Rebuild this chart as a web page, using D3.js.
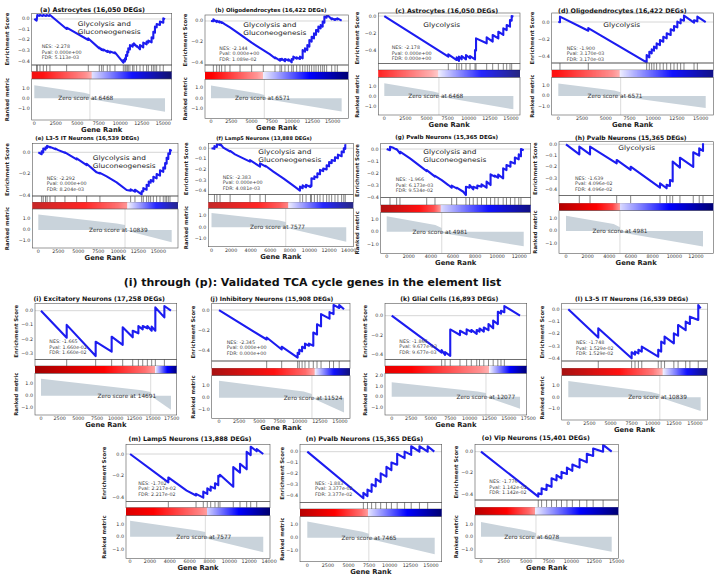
<!DOCTYPE html>
<html><head><meta charset="utf-8">
<script src="https://cdn.jsdelivr.net/npm/d3@7"></script>
<style>body{margin:0;background:#fff}svg{display:block}text{font-family:"DejaVu Sans",sans-serif}</style>
</head><body><svg id="c" width="720" height="576"></svg>
<script>
// ---------------- DATA ----------------
const titles = ["(a) Astrocytes (16,050 DEGs)","(b) Oligodendrocytes (16,422 DEGs)","(c) Astrocytes (16,050 DEGs)","(d) Oligodendrocytes (16,422 DEGs)",
 "(e) L3-5 IT Neurons (16,539 DEGs)","(f) Lamp5 Neurons (13,888 DEGs)","(g) Pvalb Neurons (15,365 DEGs)","(h) Pvalb Neurons (15,365 DEGs)",
 "(i) Excitatory Neurons (17,258 DEGs)","(j) Inhibitory Neurons (15,908 DEGs)","(k) Glial Cells (16,893 DEGs)","(l) L3-5 IT Neurons (16,539 DEGs)",
 "(m) Lamp5 Neurons (13,888 DEGs)","(n) Pvalb Neurons (15,365 DEGs)","(o) Vip Neurons (15,401 DEGs)"];
const sectionTitle = "(i) through (p): Validated TCA cycle genes in the element list";
const geneSetLabels = [["Glycolysis and","Gluconeogenesis"],["Glycolysis and","Gluconeogenesis"],["Glycolysis"],["Glycolysis"],
 ["Glycolysis and","Gluconeogenesis"],["Glycolysis and","Gluconeogenesis"],["Glycolysis and","Gluconeogenesis"],["Glycolysis"],[],[],[],[],[],[],[]];
const nesValues = ["-2.278","-2.144","-2.178","-1.900","-2.292","-2.383","-1.966","-1.639","-1.665","-2.345","-1.866","-1.748","-1.702","-1.883","-1.776"];
const pValues = ["0.000e+00","0.000e+00","0.000e+00","3.170e-03","0.000e+00","0.000e+00","6.173e-03","4.096e-02","1.660e-02","0.000e+00","9.677e-03","1.529e-02","2.217e-02","3.377e-02","1.142e-02"];
const fdrValues = ["5.113e-03","1.089e-02","0.000e+00","3.170e-03","8.204e-03","4.081e-03","9.534e-02","4.096e-02","1.660e-02","0.000e+00","9.677e-03","1.529e-02","2.217e-02","3.377e-02","1.142e-02"];
const zeroScores = [6468,6571,6468,6571,10839,7577,4981,4981,14691,11524,12077,10839,7577,7465,6078];
const rankedCounts = [15200,16110,15280,15530,16670,13750,12400,12650,17400,15500,16440,15670,13410,15450,14450];
const xDomains = [[-302,15977],[-740,16930],[-710,16065],[-695,16330],[-750,17460],[-327,14470],[-543,13032],[-646,13600],
 [-803,18170],[-905,16240],[-858,17295],[-781,16460],[-413,14089],[-885,16300],[-663,15180]];
const esDomains = [[-0.438,0.054],[-0.426,0.058],[-0.546,0.035],[-0.482,0.106],[-0.403,0.083],[-0.434,0.047],[-0.4,0.047],[-0.457,0.023],
 [-0.342,0.052],[-0.50,0.066],[-0.444,0.126],[-0.422,0.049],[-0.437,0.089],[-0.467,0.068],[-0.454,0.069]];
const rankDomains = [[-2.17,1.93],[-1.88,1.78],[-1.9,1.87],[-1.76,1.73],[-1.64,1.91],[-1.69,1.65],[-1.75,1.57],[-1.78,1.62],
 [-1.58,1.84],[-1.7,1.81],[-1.76,2.25],[-1.95,1.85],[-1.75,1.7],[-1.87,1.63],[-1.73,1.74]];
const esTicks = [[0,-0.1,-0.2,-0.3,-0.4],[0,-0.2,-0.4],[0,-0.2,-0.4],[0,-0.2,-0.4],[0,-0.2,-0.4],[0,-0.1,-0.2,-0.3,-0.4],[0,-0.1,-0.2,-0.3,-0.4],[0,-0.1,-0.2,-0.3,-0.4],
 [0,-0.1,-0.2,-0.3],[0,-0.2,-0.4],[0,-0.2,-0.4],[0,-0.1,-0.2,-0.3,-0.4],[0,-0.2,-0.4],[0,-0.1,-0.2,-0.3,-0.4],[0,-0.2,-0.4]];
const rankTicks = [[-1,0,1],[-1,0,1],[-1,0,1],[-1,0,1],[-1,0,1],[-1,0,1],[-1,0,1],[-1,0,1],[-1,0,1],[-1,0,1],[-1,0,1,2],[-1,0,1],[-1,0,1],[-1,0,1],[-1,0,1]];
const t2500_15000 = [0,2500,5000,7500,10000,12500,15000];
const t2500_17500 = [0,2500,5000,7500,10000,12500,15000,17500];
const t2000_14000 = [0,2000,4000,6000,8000,10000,12000,14000];
const t2000_12000 = [0,2000,4000,6000,8000,10000,12000];
const xTicks = [t2500_15000,t2500_15000,t2500_15000,t2500_15000,t2500_15000,t2000_14000,t2000_12000,t2000_12000,
 t2500_17500,t2500_15000,t2500_17500,t2500_15000,t2000_14000,t2500_15000,t2500_15000];
// ranked metric profile (rank, metric)
const metricProfiles = [
 [[0,1.3],[5800,0.55],[6468,0.4],[6468,-0.08],[15200,-1.35]],
 [[0,1.2],[5900,0.45],[6571,0.3],[6571,-0.05],[16110,-1.25]],
 [[0,1.27],[5800,0.45],[6468,0.3],[6468,-0.05],[15280,-1.33]],
 [[0,1.15],[5900,0.5],[6571,0.35],[6571,-0.05],[15530,-1.12]],
 [[0,1.42],[9800,0.6],[10839,0.45],[10839,-0.02],[16670,-1.12]],
 [[0,1.24],[6800,0.6],[7577,0.45],[7577,-0.05],[13750,-1.26]],
 [[0,1.26],[4400,0.55],[4981,0.3],[4981,-0.1],[12400,-1.18]],
 [[0,1.21],[4400,0.55],[4981,0.3],[4981,-0.1],[12650,-1.24]],
 [[0,1.39],[13500,0.45],[14691,0.3],[14691,0],[17400,-1.14]],
 [[0,1.39],[10500,0.5],[11524,0.3],[11524,-0.02],[15500,-1.22]],
 [[0,1.4],[11000,0.5],[12077,0.35],[12077,-0.02],[16440,-1.15]],
 [[0,1.4],[9800,0.45],[10839,0.25],[10839,-0.02],[15670,-1.17]],
 [[0,1.3],[6800,0.5],[7577,0.38],[7577,-0.13],[13410,-1.27]],
 [[0,1.26],[6700,0.45],[7465,0.3],[7465,-0.08],[15450,-1.3]],
 [[0,1.18],[5400,0.45],[6078,0.3],[6078,-0.05],[14450,-1.2]]];
const colorLimits = [[-1.45,2.3],[-1.4,2.2],[-1.45,2.5],[-1.3,2.2],[-1.3,1.85],[-1.4,1.6],[-1.35,1.5],[-1.4,1.5],
 [-1.3,1.6],[-1.35,1.6],[-1.3,2.3],[-1.3,1.6],[-1.4,2.0],[-1.45,1.6],[-1.35,1.5]];
// running enrichment score curves (rank, ES)
const esA = [[0,0],[270,-0.016],[350,0.038],[580,0.029],[660,0.038],[970,0.029],[1050,0.038],[1360,0.029],[1430,0.038],[1740,0.029],[1820,0.038],[3760,-0.095],[3760,-0.083],[6280,-0.2],[6280,-0.185],[7560,-0.28],[7560,-0.272],[7830,-0.295],[7830,-0.285],[8020,-0.3],[8020,-0.29],[8490,-0.314],[8490,-0.302],[8800,-0.32],[8800,-0.31],[9380,-0.327],[9380,-0.318],[10350,-0.416],[10350,-0.392],[10540,-0.403],[10540,-0.375],[10660,-0.385],[10660,-0.343],[10810,-0.352],[10810,-0.31],[10930,-0.318],[10930,-0.279],[11120,-0.29],[11120,-0.248],[11430,-0.264],[11430,-0.241],[11590,-0.25],[11590,-0.232],[11900,-0.263],[11900,-0.255],[12290,-0.289],[12290,-0.248],[12670,-0.27],[12670,-0.225],[13060,-0.241],[13060,-0.216],[13260,-0.225],[13260,-0.206],[13640,-0.222],[13640,-0.175],[13840,-0.184],[13840,-0.121],[14030,-0.13],[14030,-0.073],[14230,-0.08],[14230,-0.048],[14610,-0.057],[14610,-0.025],[15000,-0.035],[15000,0.006],[15200,-0.003]];
const esB = [[0,0],[290,-0.003],[290,0.016],[700,-0.01],[700,0.003],[1030,-0.013],[1030,-0.003],[1310,-0.018],[1310,-0.01],[1730,-0.032],[2340,-0.061],[3580,-0.129],[5010,-0.21],[6450,-0.281],[7280,-0.323],[7890,-0.361],[7890,-0.352],[8510,-0.384],[8510,-0.368],[8710,-0.377],[8710,-0.365],[9120,-0.39],[9120,-0.368],[9540,-0.384],[9540,-0.371],[9950,-0.4],[9950,-0.368],[10150,-0.374],[10150,-0.345],[10560,-0.365],[10560,-0.352],[10970,-0.368],[10970,-0.345],[11300,-0.361],[11300,-0.281],[11590,-0.297],[11590,-0.265],[11880,-0.281],[11880,-0.232],[12130,-0.248],[12130,-0.184],[12410,-0.2],[12410,-0.152],[12700,-0.168],[12700,-0.119],[12950,-0.135],[12950,-0.087],[13240,-0.103],[13240,-0.055],[13520,-0.071],[13520,-0.039],[13770,-0.055],[13770,-0.006],[13980,-0.016],[13980,0.042],[14260,0.032],[14260,0.065],[14880,0.016],[14880,0.026],[15290,0.01],[15290,0.019],[15580,0.016],[15580,0.026],[16110,0.003]];
const esC = [[0,0],[7580,-0.469],[7580,-0.442],[8570,-0.508],[8570,-0.477],[8840,-0.519],[8840,-0.469],[9160,-0.5],[9160,-0.462],[9670,-0.5],[9670,-0.45],[10150,-0.488],[10150,-0.462],[10740,-0.5],[10740,-0.392],[10860,-0.398],[10860,-0.258],[12120,-0.315],[12120,-0.246],[12830,-0.296],[12830,-0.219],[13500,-0.258],[13500,-0.181],[14090,-0.219],[14090,-0.142],[14490,-0.162],[14490,-0.104],[14880,-0.123],[14880,-0.046],[15080,-0.054],[15080,0],[15280,-0.008]];
const esD = [[0,0],[176,-0.001],[176,0.063],[3160,-0.102],[3160,-0.071],[9310,-0.475],[9310,-0.388],[9590,-0.416],[9590,-0.349],[9840,-0.369],[9840,-0.322],[10080,-0.337],[10080,-0.29],[10360,-0.31],[10360,-0.251],[10710,-0.271],[10710,-0.212],[11060,-0.232],[11060,-0.173],[11420,-0.192],[11420,-0.133],[11840,-0.153],[11840,-0.086],[12190,-0.102],[12190,-0.047],[12540,-0.063],[12540,0.004],[12890,-0.016],[12890,0.031],[13240,0.016],[13240,0.075],[14300,-0.008],[14300,0.02],[14650,0.008],[14650,0.063],[15530,0.0]];
const esE = [[0,0],[420,-0.018],[420,0.01],[620,0.0],[620,0.035],[900,0.025],[900,0.045],[1100,0.04],[1100,0.06],[1460,0.045],[1460,0.05],[2100,0.03],[2100,0.035],[2500,0.02],[3330,-0.005],[3330,0.0],[4790,-0.065],[4790,-0.055],[6040,-0.118],[6040,-0.105],[7290,-0.185],[7700,-0.195],[7700,-0.19],[8540,-0.222],[9790,-0.277],[11040,-0.348],[11540,-0.355],[11540,-0.342],[12080,-0.363],[12080,-0.345],[12920,-0.388],[12920,-0.36],[13125,-0.36],[13125,-0.33],[13540,-0.345],[13540,-0.3],[13800,-0.31],[13800,-0.27],[14040,-0.28],[14040,-0.255],[14380,-0.27],[14380,-0.225],[14790,-0.24],[14790,-0.2],[15210,-0.215],[15210,-0.165],[15620,-0.18],[15620,-0.14],[15850,-0.15],[15850,-0.1],[16040,-0.105],[16040,-0.05],[16250,-0.06],[16250,-0.01],[16460,-0.015],[16460,0.022],[16670,0.012]];
const esF = [[0,0],[300,-0.005],[300,0.02],[550,0.012],[550,0.04],[870,0.03],[870,0.045],[1200,0.006],[1900,-0.03],[1900,-0.025],[2400,-0.057],[3080,-0.088],[3930,-0.126],[3930,-0.112],[4950,-0.173],[4950,-0.142],[5500,-0.17],[5500,-0.165],[6310,-0.22],[7330,-0.283],[8350,-0.352],[9030,-0.4],[9030,-0.362],[9300,-0.377],[9300,-0.35],[9650,-0.368],[9650,-0.345],[10100,-0.365],[10100,-0.35],[10200,-0.355],[10200,-0.283],[10500,-0.29],[10500,-0.265],[10800,-0.275],[10800,-0.235],[11070,-0.245],[11070,-0.204],[11400,-0.215],[11400,-0.19],[11750,-0.2],[11750,-0.16],[12000,-0.17],[12000,-0.13],[12260,-0.14],[12260,-0.11],[12600,-0.12],[12600,-0.085],[12900,-0.095],[12900,-0.06],[13280,-0.075],[13280,-0.03],[13500,-0.038],[13500,0.0],[13650,-0.005],[13650,0.03],[13750,0.025]];
const esG = [[0,0],[300,-0.01],[300,0.019],[600,0.01],[900,-0.005],[900,0.0],[1200,-0.036],[1200,-0.022],[2110,-0.077],[3620,-0.181],[3620,-0.173],[4370,-0.227],[4370,-0.22],[4980,-0.255],[5580,-0.296],[5880,-0.318],[5880,-0.301],[6330,-0.323],[6330,-0.318],[6930,-0.351],[7170,-0.378],[7170,-0.31],[7500,-0.318],[7500,-0.296],[7830,-0.332],[7830,-0.31],[8200,-0.323],[8200,-0.3],[8580,-0.31],[8580,-0.29],[9040,-0.318],[9040,-0.268],[9400,-0.296],[9400,-0.208],[9780,-0.227],[9780,-0.219],[10090,-0.236],[10090,-0.21],[10540,-0.241],[10540,-0.159],[10840,-0.173],[10840,-0.132],[11200,-0.145],[11200,-0.104],[11600,-0.12],[11600,-0.07],[11950,-0.085],[11950,-0.044],[12150,-0.06],[12150,0.0],[12400,-0.01]];
const esH = [[0,0],[1230,-0.089],[1230,-0.021],[2220,-0.089],[2220,-0.021],[4680,-0.169],[4680,-0.139],[5970,-0.228],[5970,-0.199],[8680,-0.385],[8680,-0.347],[9290,-0.391],[9290,-0.36],[9600,-0.37],[9600,-0.317],[9850,-0.33],[9850,-0.154],[10520,-0.207],[10520,-0.119],[11750,-0.2],[11750,-0.071],[12300,-0.1],[12300,-0.036],[12650,-0.059],[12650,0.01]];
const esI = [[0,0],[3440,-0.19],[3440,-0.1],[7320,-0.319],[7320,-0.218],[9460,-0.288],[9460,-0.183],[10940,-0.241],[10940,-0.117],[12280,-0.187],[12280,-0.141],[13040,-0.159],[13040,-0.108],[13620,-0.131],[13620,-0.108],[14240,-0.124],[14240,-0.108],[14820,-0.141],[14820,-0.112],[15310,-0.141],[15310,0.023],[16520,-0.047],[16520,0.033],[17400,0.0]];
const esJ = [[0,0],[5910,-0.289],[5910,-0.27],[7770,-0.387],[7770,-0.36],[9750,-0.466],[9750,-0.42],[9950,-0.43],[9950,-0.39],[10300,-0.405],[10300,-0.36],[10660,-0.375],[10660,-0.33],[11150,-0.35],[11150,-0.33],[11690,-0.35],[11690,-0.22],[12150,-0.24],[12150,-0.14],[12650,-0.16],[12650,-0.04],[13700,-0.085],[13700,-0.02],[14200,-0.04],[14200,0.05],[14900,0.02],[14900,0.05],[15500,0.007]];
const esK = [[0,0],[6400,-0.376],[6400,-0.35],[6830,-0.4],[6830,-0.37],[7500,-0.41],[7500,-0.14],[8750,-0.197],[8750,-0.153],[9600,-0.19],[9600,-0.139],[10200,-0.165],[10200,-0.145],[10890,-0.186],[10890,-0.145],[11250,-0.163],[11250,-0.13],[11800,-0.163],[11800,-0.12],[12400,-0.147],[12400,-0.085],[13000,-0.129],[13000,-0.05],[13600,-0.085],[13600,0.04],[14000,0.02],[14000,0.05],[14430,0.035],[14430,0.098],[16440,0.0]];
const esL = [[0,0],[3550,-0.231],[3550,-0.155],[7500,-0.4],[7500,-0.35],[7900,-0.37],[7900,-0.345],[8300,-0.36],[8300,-0.33],[8700,-0.345],[8700,-0.305],[10650,-0.386],[10650,-0.33],[11000,-0.345],[11000,-0.264],[11400,-0.28],[11400,-0.223],[12500,-0.278],[12500,-0.196],[13000,-0.215],[13000,-0.128],[13900,-0.17],[13900,-0.1],[14400,-0.12],[14400,-0.06],[15390,-0.087],[15390,0.035],[15670,0.008]];
const esM = [[0,0],[3850,-0.26],[3850,-0.215],[5700,-0.336],[6640,-0.38],[6640,-0.365],[7370,-0.4],[7370,-0.345],[7775,-0.366],[7775,-0.314],[8117,-0.336],[8117,-0.299],[8550,-0.316],[8550,-0.268],[8880,-0.286],[8880,-0.2],[9050,-0.205],[9050,-0.19],[10390,-0.3],[10390,-0.12],[11070,-0.17],[11070,-0.09],[11740,-0.14],[11740,0.02],[12145,-0.01],[12145,0.067],[12750,0.025],[12750,0.045],[13410,0.0]];
const esN = [[0,0],[6800,-0.43],[6800,-0.38],[7300,-0.41],[7300,-0.35],[7800,-0.37],[7800,-0.3],[8300,-0.32],[8300,-0.25],[8900,-0.28],[8900,-0.2],[9600,-0.23],[9600,-0.14],[10200,-0.17],[10200,-0.1],[10900,-0.12],[10900,-0.02],[11800,-0.06],[11800,0.0],[12600,-0.03],[12600,0.05],[13600,0.0],[13600,0.05],[14600,0.0],[14600,0.05],[15400,0.0]];
const esO = [[0,0],[6330,-0.423],[6330,-0.39],[6700,-0.4],[6700,-0.344],[7250,-0.36],[7250,-0.31],[7800,-0.33],[7800,-0.25],[8350,-0.27],[8350,-0.22],[8900,-0.25],[8900,-0.19],[9500,-0.21],[9500,-0.15],[10100,-0.18],[10100,-0.12],[10900,-0.15],[10900,-0.07],[11700,-0.1],[11700,-0.02],[12400,-0.04],[12400,0.03],[13500,0.0],[13500,0.063],[14450,0.0]];
const esCurves = [esA,esB,esC,esD,esE,esF,esG,esH,esI,esJ,esK,esL,esM,esN,esO];
// extra hit positions (genes in set without visible jump)
const extraHits = [[270,350,660,1050,1430,1820],[1730,2340,3580,5010,6450],[],[],[620,900,1100,2100,3330],[300,550,870,1900],[300,900,1200],[],[],[],[],[],[],[],[]];

// ---------------- LAYOUT (pixels) ----------------
const layout = [
 {x0:31.7,x1:171.7,y:[13.3,65,71.7,79,120],tx:92.5,tw:105,ty:9.5,gx:77.7,gy:24.3,sx:41.7,sy:46.7,yl:7.3,zx:85.8},
 {x0:205,x1:348.3,y:[15,65,72,79.3,118.3],tx:270.8,tw:111.7,ty:9.5,gx:243.3,gy:25,sx:219.3,sy:48.3,yl:185,zx:262.5},
 {x0:378.3,x1:520,y:[13,63.3,70,77.3,115],tx:446.7,tw:103.3,ty:10,gx:423.3,gy:25,sx:391.7,sy:47.7,yl:357,zx:435.8},
 {x0:551.7,x1:713.3,y:[13,63,70,77.3,115],tx:622.3,tw:128.7,ty:10,gx:603.3,gy:25,sx:566.7,sy:48.3,yl:531.7,zx:615},
 {x0:32.3,x1:178,y:[143.3,196,202.3,209,248],tx:87.2,tw:104.3,ty:137.5,gx:92.7,gy:158.3,sx:46.7,sy:178.3,yl:7.3,zx:118.3},
 {x0:208.3,x1:353.3,y:[143.3,194.3,202.3,208.3,246.7],tx:264,tw:95.7,ty:137.5,gx:258.3,gy:152.3,sx:222.7,sy:177.3,yl:186,zx:277.5},
 {x0:380.7,x1:530.7,y:[143.3,197.7,205,212.3,253.3],tx:446.7,tw:103.3,ty:137,gx:423.3,gy:152.3,sx:395.7,sy:179.7,yl:356.7,zx:440},
 {x0:559,x1:713.3,y:[141.7,195.7,203.3,210.7,253.3],tx:630.8,tw:111.7,ty:137,gx:618.3,gy:148.3,sx:575,sy:178.3,yl:535,zx:620},
 {x0:35,x1:176.7,y:[303.3,359.3,366,373.3,415],tx:99.2,tw:131.7,ty:298.3,sx:49.3,sy:341.7,yl:15.7,zx:126.8},
 {x0:211.7,x1:350,y:[303.3,361,368.3,375.7,418.3],tx:271.7,tw:123.3,ty:298.3,sx:226.7,sy:342.3,yl:193.3,zx:313},
 {x0:385,x1:526.7,y:[303.3,359.3,366,373.3,415],tx:449.2,tw:98.3,ty:298.3,sx:399.3,sy:341,yl:365,zx:485.8},
 {x0:561.7,x1:707.3,y:[303.3,361,368.3,375.7,420],tx:631.7,tw:113.3,ty:298.3,sx:576,sy:342.7,yl:541.7,zx:657.5},
 {x0:126,x1:270,y:[444.3,501.7,507.7,515.7,558.3],tx:190,tw:123.3,ty:438.3,sx:138.3,sy:483.3,yl:104,zx:203.8},
 {x0:300,x1:441.7,y:[444.3,502.3,509,516.7,561.7],tx:364.5,tw:117.7,ty:438.3,sx:315,sy:483.3,yl:281.7,zx:369},
 {x0:475,x1:618.3,y:[444.3,500,507.3,515,558.3],tx:535.8,tw:108.3,ty:437,sx:489.3,sy:481.7,yl:456,zx:531.7}];

// ---------------- DRAW ----------------
const svg = d3.select("#c");
svg.append("rect").attr("width",720).attr("height",576).attr("fill","#fff");
const defs = svg.append("defs");
const seismic = d3.scaleLinear().domain([0,0.25,0.5,0.75,1]).range(["#00004c","#0000ff","#ffffff","#ff0000","#800000"]).clamp(true);
const fmt1 = v => (v < 0 ? "\u2212" : "") + Math.abs(v).toFixed(1);

function metricAt(pts, r) {
  for (let k = 0; k < pts.length - 1; k++) {
    const a = pts[k], b = pts[k+1];
    if (b[0] === a[0]) continue;
    if (r >= a[0] && r <= b[0]) return a[1] + (b[1]-a[1])*(r-a[0])/(b[0]-a[0]);
  }
  return r < pts[0][0] ? pts[0][1] : pts[pts.length-1][1];
}
function fitText(sel, target) {
  const base = 10; sel.attr("font-size", base);
  const len = sel.node().getComputedTextLength();
  sel.attr("font-size", base*target/len);
}

titles.forEach((title, i) => {
  const L = layout[i], [y0,y1,y2,y3,y4] = L.y;
  const g = svg.append("g");
  const x = d3.scaleLinear().domain(xDomains[i]).range([L.x0, L.x1]);
  const yE = d3.scaleLinear().domain(esDomains[i]).range([y1, y0]);
  const yR = d3.scaleLinear().domain(rankDomains[i]).range([y4, y3]);
  const N = rankedCounts[i], z = zeroScores[i], mp = metricProfiles[i];
  const clipId = "clip" + i;
  defs.append("clipPath").attr("id", clipId).append("rect").attr("x", L.x0).attr("y", y0).attr("width", L.x1-L.x0).attr("height", y1-y0);

  // title
  fitText(g.append("text").attr("x", L.tx).attr("y", L.ty).attr("text-anchor","middle").attr("dominant-baseline","central")
    .attr("font-weight","bold").attr("fill","#111").text(title), L.tw);

  // ES panel
  g.append("line").attr("x1",L.x0).attr("x2",L.x1).attr("y1",yE(0)).attr("y2",yE(0)).attr("stroke","#cccccc").attr("stroke-width",0.8);
  g.append("path").datum(esCurves[i]).attr("clip-path","url(#"+clipId+")")
    .attr("d", d3.line().x(d => x(d[0])).y(d => yE(d[1])))
    .attr("fill","none").attr("stroke","#1c1cf0").attr("stroke-width",2.1).attr("stroke-linejoin","round");
  g.append("rect").attr("x",L.x0).attr("y",y0).attr("width",L.x1-L.x0).attr("height",y1-y0).attr("fill","none").attr("stroke","#555").attr("stroke-width",0.6);
  esTicks[i].forEach(t => g.append("text").attr("x",L.x0-2).attr("y",yE(t)).attr("text-anchor","end").attr("dominant-baseline","central")
    .attr("font-size",4.8).attr("fill","#333").text(fmt1(t)));

  // gene set label (width kept as at 7.4px, height reduced so the two lines do not collide)
  geneSetLabels[i].forEach((s, k) => {
    const t = g.append("text").attr("x",L.gx).attr("y",L.gy + k*7.6).attr("dominant-baseline","central")
      .attr("font-size",7.4).attr("fill","#222").text(s);
    const w = t.node().getComputedTextLength();
    t.attr("font-size",6.4).attr("textLength",w).attr("lengthAdjust","spacingAndGlyphs");
  });
  // stats
  ["NES: " + nesValues[i], "Pval: " + pValues[i], "FDR: " + fdrValues[i]].forEach((s, k) =>
    g.append("text").attr("x",L.sx).attr("y",L.sy + k*5.6).attr("dominant-baseline","central").attr("font-size",4.8).attr("fill","#444").text(s));

  // hits
  const hitSet = new Set(extraHits[i]);
  const es = esCurves[i];
  for (let k = 1; k < es.length; k++) if (es[k][0] === es[k-1][0]) hitSet.add(es[k][0]);
  [...hitSet].forEach(h => g.append("line").attr("x1",x(h)).attr("x2",x(h)).attr("y1",y1).attr("y2",y2).attr("stroke","#222").attr("stroke-width",0.55));
  g.append("rect").attr("x",L.x0).attr("y",y1).attr("width",L.x1-L.x0).attr("height",y2-y1).attr("fill","none").attr("stroke","#555").attr("stroke-width",0.6);

  // colour bar (imshow style: ranks stretched across full axis width)
  const norm = d3.scaleLinear().domain([colorLimits[i][0], 0, colorLimits[i][1]]).range([0, 0.5, 1]).clamp(true);
  const cbX = d3.scaleLinear().domain([0, N]).range([L.x0, L.x1]);
  const nCols = Math.ceil(L.x1 - L.x0);
  g.append("g").selectAll("rect").data(d3.range(nCols)).join("rect")
    .attr("x", c => L.x0 + c).attr("y", y2).attr("width", c => Math.min(1.2, L.x1 - L.x0 - c)).attr("height", y3-y2)
    .attr("fill", c => seismic(norm(metricAt(mp, cbX.invert(L.x0 + c + 0.5)))));

  // ranked metric
  g.append("path").datum(mp).attr("d", d3.area().x(d => x(d[0])).y0(yR(0)).y1(d => yR(d[1]))).attr("fill","#C9D3DB");
  g.append("line").attr("x1",x(z)).attr("x2",x(z)).attr("y1",y3).attr("y2",y4).attr("stroke","#c4c4c4").attr("stroke-width",0.6);
  g.append("text").attr("x",L.zx).attr("y",yR(0)).attr("text-anchor","middle").attr("dominant-baseline","central")
    .attr("font-size",5.8).attr("fill","#333").text("Zero score at " + z);
  g.append("rect").attr("x",L.x0).attr("y",y3).attr("width",L.x1-L.x0).attr("height",y4-y3).attr("fill","none").attr("stroke","#555").attr("stroke-width",0.6);
  rankTicks[i].forEach(t => g.append("text").attr("x",L.x0-2).attr("y",yR(t)).attr("text-anchor","end").attr("dominant-baseline","central")
    .attr("font-size",4.8).attr("fill","#333").text(fmt1(t)));
  xTicks[i].forEach(t => g.append("text").attr("x",x(t)).attr("y",y4+3.6).attr("text-anchor","middle").attr("dominant-baseline","central")
    .attr("font-size",4.8).attr("fill","#333").text(String(t)));
  g.append("text").attr("x",(L.x0+L.x1)/2).attr("y",y4+9.8).attr("text-anchor","middle").attr("dominant-baseline","central")
    .attr("font-size",6.8).attr("font-weight","bold").attr("fill","#222").text("Gene Rank");
  // y labels
  g.append("text").attr("transform",`translate(${L.yl},${(y0+y1)/2}) rotate(-90)`).attr("text-anchor","middle").attr("dominant-baseline","central")
    .attr("font-size",5.3).attr("font-weight","bold").attr("fill","#222").text("Enrichment Score");
  g.append("text").attr("transform",`translate(${L.yl},${(y3+y4)/2}) rotate(-90)`).attr("text-anchor","middle").attr("dominant-baseline","central")
    .attr("font-size",5.3).attr("font-weight","bold").attr("fill","#222").text("Ranked metric");
});

fitText(svg.append("text").attr("x",312.5).attr("y",282).attr("text-anchor","middle").attr("dominant-baseline","central")
  .attr("font-weight","bold").attr("fill","#111").text(sectionTitle), 378);
</script></body></html>
